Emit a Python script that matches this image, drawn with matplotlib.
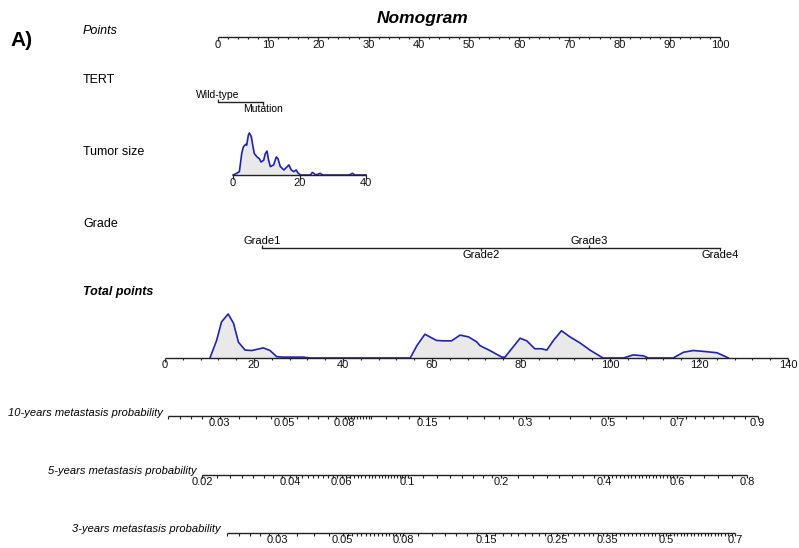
import numpy as np
import matplotlib.pyplot as plt

plt.rcParams['font.family'] = ['Liberation Sans', 'DejaVu Sans']

W, H = 799, 548

# ---- points scale ----
points_major = np.arange(0, 101, 10)
points_minor = np.arange(0, 101, 2)

# ---- TERT ----
tert_levels = ['Wild-type', 'Mutation']
tert_points = [0.0, 9.0]

# ---- Tumor size (linear in points) ----
size_range = [0, 40]
size_points = [3.0, 29.5]
size_ticks = [0, 20, 40]
size_grid = [0, 1.1, 1.9, 2.6, 3.1, 3.8, 4.1, 4.6, 4.9, 5.5, 6.0, 6.4, 7.2, 7.9,
             8.4, 9.2, 9.7, 10.2, 10.7, 11.2, 12.2, 13.0, 13.5, 14.2, 15.3, 16.3,
             16.8, 17.5, 18.3, 19.0, 19.5, 20.3, 23.3, 23.8, 24.3, 24.8, 25.6,
             26.2, 26.9, 34.9, 35.9, 36.6, 40]
size_density = [0, .04, .08, .51, .67, .73, .71, .95, 1.0, .91, .67, .51, .43, .39,
                .31, .35, .51, .57, .35, .20, .24, .43, .39, .20, .12, .20, .24,
                .12, .08, .12, .05, 0, 0, .06, .04, 0, .02, .04, 0, 0, .04, 0, 0]

# ---- Grade ----
grade_levels = ['Grade1', 'Grade2', 'Grade3', 'Grade4']
grade_points = [8.8, 52.4, 73.9, 100.0]

# ---- Total points ----
total_major = np.arange(0, 141, 20)
total_minor = np.arange(0, 141, 4)
total_grid = [10.1, 11.6, 12.7, 14.2, 15.4, 16.5, 18.0, 19.5, 22.1, 23.6, 25.1, 26.6,
              31.1, 32.6, 55.1, 56.6, 58.4, 61.0, 62.5, 64.4, 66.3, 68.2, 70.0, 70.8,
              73.0, 75.7, 76.4, 77.9, 79.8, 81.3, 83.1, 84.6, 85.8, 87.3, 89.1, 91.0,
              93.3, 95.5, 98.1, 98.5, 103.0, 105.2, 107.5, 108.6, 114.2, 116.5,
              118.7, 121.0, 124.0, 125.8, 126.6]
total_density = [0, .40, .82, 1.0, .79, .36, .18, .17, .23, .17, .03, .02, .02, 0, 0,
                 .28, .54, .40, .39, .39, .52, .48, .37, .28, .17, .02, .02, .21, .45,
                 .39, .21, .21, .18, .40, .62, .48, .34, .18, .02, 0, 0, .07, .05, 0,
                 0, .13, .17, .15, .12, .04, 0]

# ---- metastasis probability: cloglog(p) = intercept + slope * total points ----
lp_slope = 0.03577
prob_names = ['10-years metastasis probability', '5-years metastasis probability',
              '3-years metastasis probability']
prob_intercepts = [-3.930, -4.202, -4.397]
prob_labels = [[0.03, 0.05, 0.08, 0.15, 0.3, 0.5, 0.7, 0.9],
               [0.02, 0.04, 0.06, 0.1, 0.2, 0.4, 0.6, 0.8],
               [0.03, 0.05, 0.08, 0.15, 0.25, 0.35, 0.5, 0.7]]
prob_start = 0.02
# minor ticks given as (from, to, step)
prob_minor = [
    [(0.02, 0.03, 0.002), (0.03, 0.05, 0.005), (0.05, 0.08, 0.005), (0.08, 0.1, 0.002),
     (0.1, 0.15, 0.01), (0.15, 0.3, 0.025), (0.3, 0.5, 0.05), (0.5, 0.7, 0.05),
     (0.7, 0.9, 0.025)],
    [(0.02, 0.04, 0.0025), (0.04, 0.06, 0.002), (0.06, 0.1, 0.002), (0.1, 0.2, 0.0125),
     (0.2, 0.4, 0.025), (0.4, 0.6, 0.01), (0.6, 0.8, 0.04)],
    [(0.02, 0.03, 0.002), (0.03, 0.05, 0.005), (0.05, 0.08, 0.002), (0.08, 0.15, 0.01),
     (0.15, 0.25, 0.01), (0.25, 0.35, 0.01), (0.35, 0.5, 0.01), (0.5, 0.7, 0.01)],
]


def cloglog(p):
    p = np.asarray(p, dtype=float)
    return np.log(-np.log(1 - p))


def fx(px):
    return px / W


def fy(py):
    return 1 - py / H


fig = plt.figure(figsize=(W / 100, H / 100), dpi=100)
fig.patch.set_facecolor('white')

# axes in points units (0 pts at 218 px, 100 pts at 720 px)
ppx = (720 - 218) / 100
ax_p = fig.add_axes([0, 0, 1, 1])
ax_p.set_xlim(-218 / ppx, (W - 218) / ppx)
ax_p.set_ylim(H, 0)
ax_p.axis('off')

# axes in total points units (0 at 165 px, 140 at 788 px)
tpx = (788 - 165) / 140
ax_t = fig.add_axes([0, 0, 1, 1])
ax_t.patch.set_alpha(0)
ax_t.set_xlim(-165 / tpx, (W - 165) / tpx)
ax_t.set_ylim(H, 0)
ax_t.axis('off')

LC = '#222222'
LW = 1.0
BLUE = '#2020c0'
FILL = '#e9e9e9'


def scale_line(ax, y, lo, hi, majors, labels, minors, major_len=3.5, minor_len=2.0,
               lab_off=2.5, fs=8):
    ax.plot([lo, hi], [y, y], color=LC, lw=LW, zorder=5, solid_capstyle='butt')
    ax.vlines(majors, y, y + major_len, color=LC, lw=0.9, zorder=5)
    if len(minors):
        ax.vlines(minors, y, y + minor_len, color=LC, lw=0.8, zorder=5)
    for m, lab in zip(majors, labels):
        ax.text(m, y + lab_off, lab, ha='center', va='top', fontsize=fs, color='#111111')


# title and panel letter
fig.text(fx(423), fy(18), 'Nomogram', ha='center', va='center', fontsize=12.5,
         fontweight='bold', fontstyle='italic')
fig.text(fx(10), fy(41), 'A)', ha='left', va='center', fontsize=15, fontweight='bold')

# row labels
rows = [('Points', 31, 'normal', 'italic'), ('TERT', 80, 'normal', 'normal'),
        ('Tumor size', 152, 'normal', 'normal'), ('Grade', 224, 'normal', 'normal'),
        ('Total points', 292, 'bold', 'italic')]
for name, yy, wt, st in rows:
    fig.text(fx(83), fy(yy), name, ha='left', va='center', fontsize=9,
             fontweight=wt, fontstyle=st)

# Points axis
scale_line(ax_p, 37, 0, 100, points_major, [str(v) for v in points_major],
           points_minor[points_minor % 10 != 0])

# TERT
y_tert = 102
ax_p.plot([tert_points[0], tert_points[-1]], [y_tert, y_tert], color=LC, lw=LW)
ax_p.vlines(tert_points[0], y_tert - 3, y_tert, color=LC, lw=0.9)
ax_p.vlines(tert_points[1], y_tert, y_tert + 3, color=LC, lw=0.9)
ax_p.text(tert_points[0], y_tert - 2, tert_levels[0], ha='center', va='bottom', fontsize=7.5)
ax_p.text(tert_points[1], y_tert + 1.5, tert_levels[1], ha='center', va='top', fontsize=7.5)

# Tumor size density and axis
y_size = 175
sx = np.interp(size_grid, size_range, size_points)
sy = y_size - np.array(size_density) * 42
ax_p.fill_between(sx, sy, y_size, color=FILL, lw=0, zorder=2)
ax_p.plot(sx, sy, color=BLUE, lw=1.2, zorder=3)
st = np.interp(size_ticks, size_range, size_points)
scale_line(ax_p, y_size, size_points[0], size_points[1], st, [str(v) for v in size_ticks], [])

# Grade
y_grade = 248
ax_p.plot([grade_points[0], grade_points[-1]], [y_grade, y_grade], color=LC, lw=LW)
for i, (g, gp) in enumerate(zip(grade_levels, grade_points)):
    if i % 2 == 0 and i != 3:
        ax_p.vlines(gp, y_grade - 3, y_grade, color=LC, lw=0.9)
        ax_p.text(gp, y_grade - 2, g, ha='center', va='bottom', fontsize=8)
    else:
        ax_p.vlines(gp, y_grade, y_grade + 3, color=LC, lw=0.9)
        ax_p.text(gp, y_grade + 1.5, g, ha='center', va='top', fontsize=8)

# Total points density and axis
y_tot = 358
ty = y_tot - np.array(total_density) * 44
ax_t.fill_between(total_grid, ty, y_tot, color=FILL, lw=0, zorder=2)
ax_t.plot(total_grid, ty, color=BLUE, lw=1.2, zorder=3)
scale_line(ax_t, y_tot, 0, 140, total_major, [str(v) for v in total_major],
           total_minor[total_minor % 20 != 0])

# probability axes
prob_y = [416, 475, 533]
for name, b0, labs, minors, yy in zip(prob_names, prob_intercepts, prob_labels,
                                      prob_minor, prob_y):
    to_tp = lambda p: (cloglog(p) - b0) / lp_slope
    mt = []
    for a, b, s in minors:
        vals = np.arange(a + s, b - s / 2, s)
        mt.extend(vals)
    mt.append(prob_start)
    lo = to_tp(prob_start)
    hi = to_tp(labs[-1])
    scale_line(ax_t, yy, lo, hi, to_tp(labs), ['%g' % v for v in labs], to_tp(mt),
               major_len=3.0, minor_len=2.5, lab_off=2.0)
    ax_t.annotate(name, xy=(lo, yy - 3.5), xytext=(-4, 0), textcoords='offset points',
                  ha='right', va='center', fontsize=8, fontstyle='italic')

fig.savefig('out.png', dpi=100, facecolor='white')
